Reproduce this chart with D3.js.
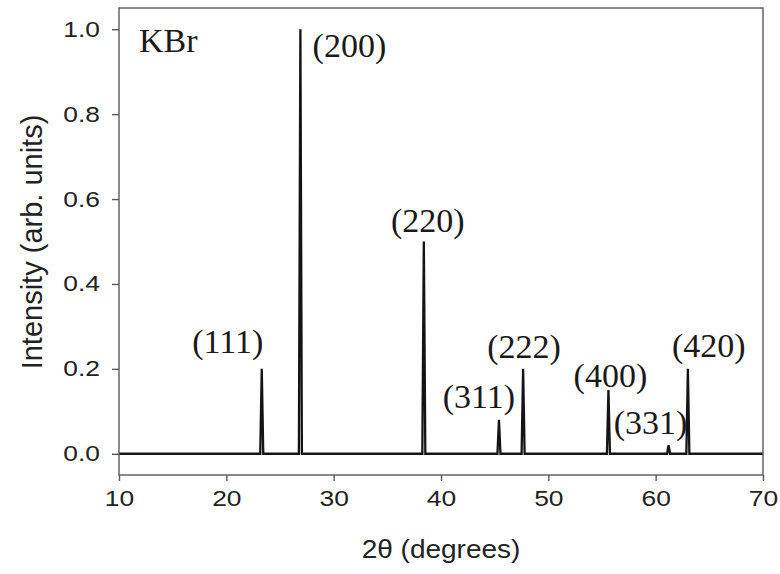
<!DOCTYPE html>
<html>
<head>
<meta charset="utf-8">
<script src="https://cdn.jsdelivr.net/npm/d3@7"></script>
<style>
  html, body { margin: 0; padding: 0; background: #fff; }
  svg { display: block; }
</style>
</head>
<body>
<svg id="chart" width="780" height="574"></svg>
<script>
// KBr powder diffraction: reflection positions (2θ, degrees) and relative intensities
const reflections = ["(111)", "(200)", "(220)", "(311)", "(222)", "(400)", "(331)", "(420)"];
const twoTheta    = [23.3, 26.9, 38.4, 45.4, 47.65, 55.6, 61.2, 63.0];
const intensity   = [0.20, 1.00, 0.50, 0.08, 0.20, 0.15, 0.02, 0.20];

const xTicks = [10, 20, 30, 40, 50, 60, 70];
const yTicks = [0.0, 0.2, 0.4, 0.6, 0.8, 1.0];

const sampleName = "KBr";
const xTitle = "2θ (degrees)";
const yTitle = "Intensity (arb. units)";

// layout
const W = 780, H = 574;
const margin = { left: 119, right: 17, top: 8, bottom: 99 };
const plotW = W - margin.left - margin.right;
const plotH = H - margin.top - margin.bottom;
const widen = 1.2; // horizontal stretch of the sans-serif axis lettering

const svg = d3.select("#chart");
const g = svg.append("g").attr("transform", `translate(${margin.left},${margin.top})`);

const x = d3.scaleLinear().domain([10, 70]).range([0, plotW]);
const y = d3.scaleLinear().domain([-0.05, 1.05]).range([plotH, 0]);

// diffraction trace: flat baseline with a narrow spike at each reflection
const halfWidth = 0.14; // degrees at the foot of each peak
const trace = [[10, 0]];
twoTheta.forEach((t, i) => {
  trace.push([t - halfWidth, 0], [t, intensity[i]], [t + halfWidth, 0]);
});
trace.push([70, 0]);

const line = d3.line().x(d => x(d[0])).y(d => y(d[1]));
g.append("path")
  .datum(trace)
  .attr("d", line)
  .attr("fill", "none")
  .attr("stroke", "#141414")
  .attr("stroke-width", 2.3)
  .attr("stroke-linejoin", "miter");

// plot frame
g.append("rect")
  .attr("x", 0).attr("y", 0)
  .attr("width", plotW).attr("height", plotH)
  .attr("fill", "none")
  .attr("stroke", "#5a5a5a")
  .attr("stroke-width", 1.4);

const sans = "'Liberation Sans', Arial, sans-serif";
const serif = "'Liberation Serif', 'Times New Roman', serif";

// stretch a text element horizontally about its own anchor point
function stretch(sel, k) {
  sel.each(function () {
    const t = d3.select(this);
    const tx = +t.attr("x") || 0;
    t.attr("x", 0).attr("transform", `translate(${tx},0) scale(${k},1)`);
  });
}

// x axis
const xAxis = g.append("g")
  .attr("transform", `translate(0,${plotH})`)
  .call(d3.axisBottom(x).tickValues(xTicks).tickFormat(d3.format("d")).tickSize(6).tickPadding(9));
xAxis.select(".domain").remove();
xAxis.selectAll(".tick line").attr("stroke", "#5a5a5a").attr("stroke-width", 1.4);
xAxis.selectAll(".tick text")
  .attr("font-family", sans).attr("font-size", 22).attr("fill", "#222")
  .call(stretch, widen);

// y axis
const yAxis = g.append("g")
  .call(d3.axisLeft(y).tickValues(yTicks).tickFormat(d3.format(".1f")).tickSize(7).tickPadding(12));
yAxis.select(".domain").remove();
yAxis.selectAll(".tick line").attr("stroke", "#5a5a5a").attr("stroke-width", 1.4);
yAxis.selectAll(".tick text")
  .attr("font-family", sans).attr("font-size", 22).attr("fill", "#222")
  .call(stretch, widen);

// axis titles
svg.append("text")
  .attr("transform", `translate(441,558) scale(1.12,1)`)
  .attr("text-anchor", "middle")
  .attr("font-family", sans).attr("font-size", 25).attr("fill", "#222")
  .text(xTitle);

svg.append("text")
  .attr("transform", "translate(42,242) rotate(-90)")
  .attr("text-anchor", "middle")
  .attr("font-family", sans).attr("font-size", 29).attr("fill", "#222")
  .text(yTitle);

// sample name
g.append("text")
  .attr("x", 20).attr("y", 44)
  .attr("font-family", serif).attr("font-size", 34).attr("fill", "#1a1a1a")
  .text(sampleName);

// Miller index labels, nudged (px) from each peak apex
const labelNudge = {
  "(111)": [-34, -16], "(200)": [49, 28], "(220)": [4, -10], "(311)": [-20, -12],
  "(222)": [1, -11], "(400)": [2, -3], "(331)": [-18, -11], "(420)": [21, -12]
};
g.selectAll("text.hkl")
  .data(reflections.map((r, i) => ({ r, t: twoTheta[i], v: intensity[i] })))
  .join("text")
  .attr("class", "hkl")
  .attr("x", d => x(d.t) + labelNudge[d.r][0])
  .attr("y", d => y(d.v) + labelNudge[d.r][1])
  .attr("text-anchor", "middle")
  .attr("font-family", serif).attr("font-size", 34).attr("fill", "#1a1a1a")
  .text(d => d.r);
</script>
</body>
</html>
